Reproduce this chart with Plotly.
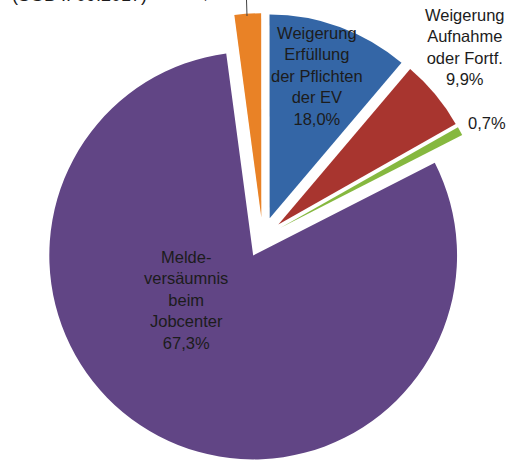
import plotly.graph_objects as go

# ---- data ----
categories = [
    "Sonstige",
    "Weigerung Erfüllung der Pflichten der EV",
    "Weigerung Aufnahme oder Fortf.",
    "Sonstiges",
    "Meldeversäumnis beim Jobcenter",
]
# angular share of each slice as drawn (percent of the circle)
slice_share = [2.1, 11.2, 5.6, 0.7, 80.4]
# percentages printed in the data labels
label_pct = ["4,1%", "18,0%", "9,9%", "0,7%", "67,3%"]
label_text = [
    "",
    "Weigerung<br>Erfüllung<br>der Pflichten<br>der EV",
    "Weigerung<br>Aufnahme<br>oder Fortf.",
    "",
    "Melde-<br>versäumnis<br>beim<br>Jobcenter",
]
colors = ["#E98226", "#3466A6", "#A8352F", "#86B83F", "#614585"]

W, H = 512, 462
FONT = "Liberation Sans, Arial, sans-serif"
TXT = "#1c1c1c"

fig = go.Figure(
    go.Pie(
        labels=categories,
        values=slice_share,
        sort=False,
        direction="clockwise",
        rotation=-7.6,
        pull=[0.1] * len(slice_share),
        marker=dict(colors=colors, line=dict(width=0)),
        textinfo="none",
        hoverinfo="label",
        domain=dict(x=[0.075, 0.951], y=[0.0, 0.972]),
        showlegend=False,
    )
)


def px(x, y):
    return x / W, 1 - y / H


def lab(i):
    t = label_text[i]
    return (t + "<br>" if t else "") + label_pct[i]


annotations = []
# label positions (pixel centres in the reference)
label_pos = {1: (317, 76), 2: (465, 47), 3: (487, 123), 4: (186, 300)}
for i, (x, y) in label_pos.items():
    xp, yp = px(x, y)
    annotations.append(
        dict(
            x=xp, y=yp, xref="paper", yref="paper", text=lab(i),
            showarrow=False, xanchor="center", yanchor="middle", align="center",
            font=dict(family=FONT, size=16.5, color=TXT),
        )
    )

# partly cut-off texts at the top edge (as in the reference crop)
annotations.append(
    dict(
        x=10 / W, y=1, xref="paper", yref="paper", text="(SGB II 09.2017)",
        showarrow=False, xanchor="left", yanchor="bottom", yshift=-7.5,
        font=dict(family=FONT, size=18, color=TXT),
    )
)
annotations.append(
    dict(
        x=192 / W, y=1, xref="paper", yref="paper", text=label_pct[0],
        showarrow=False, xanchor="left", yanchor="bottom", yshift=-4,
        font=dict(family=FONT, size=16.5, color=TXT),
    )
)

fig.update_layout(
    width=W,
    height=H,
    margin=dict(l=0, r=0, t=0, b=0),
    paper_bgcolor="white",
    plot_bgcolor="white",
    annotations=annotations,
    shapes=[
        dict(
            type="line", xref="paper", yref="paper",
            x0=246.5 / W, x1=247 / W, y0=1, y1=1 - 16 / H,
            line=dict(color="#404040", width=1),
        )
    ],
)

fig.write_html("out.html")
